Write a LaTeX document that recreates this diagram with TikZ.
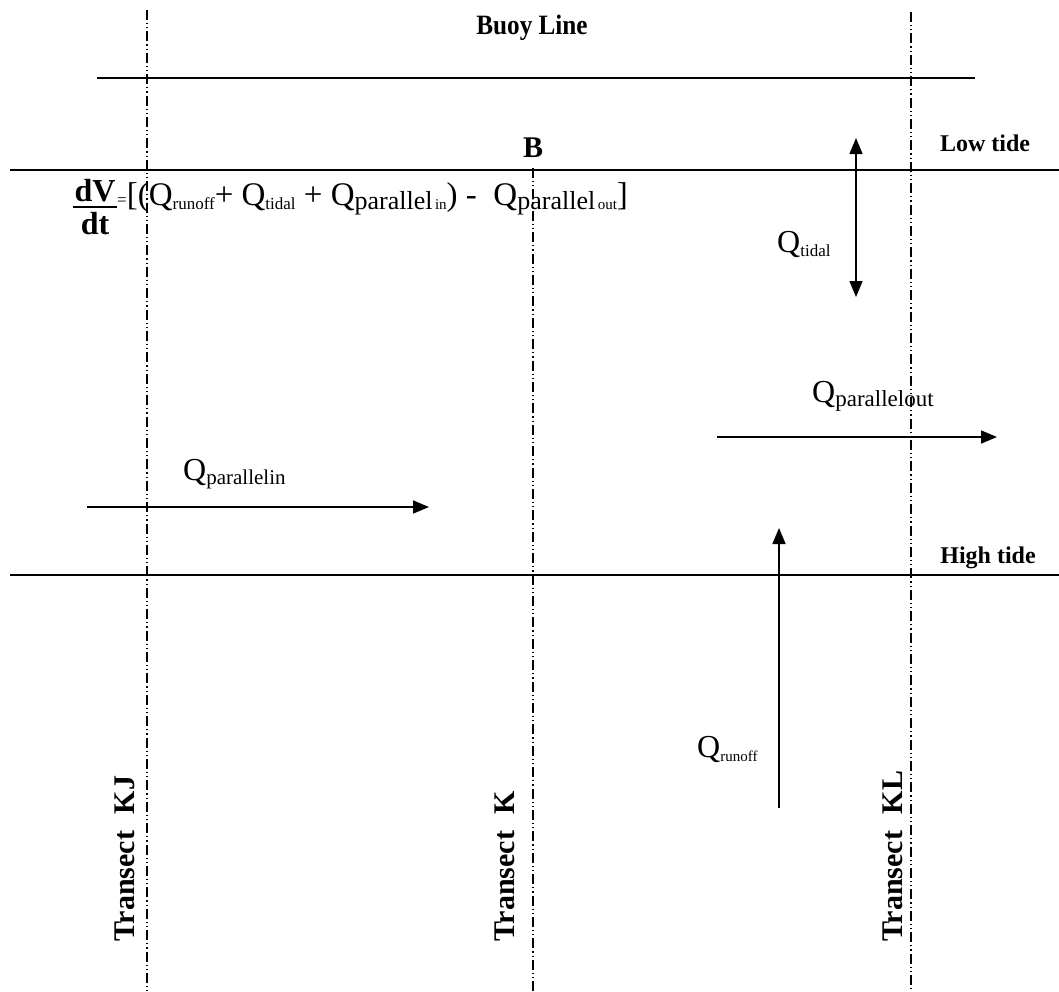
\documentclass[tikz,border=0pt]{standalone}
\usepackage{fontspec}
\setmainfont{Liberation Serif}
\usetikzlibrary{arrows.meta}
\newcommand\fs[2]{{\fontsize{#1}{#1}\selectfont #2}}
\newcommand\lowsub[2]{\raisebox{-4pt}{\fontsize{#1}{#1}\selectfont #2}}
\begin{document}
\begin{tikzpicture}[x=1pt,y=-1pt,
  hline/.style={line width=1.6pt},
  transect/.style={line width=1.1pt, dash pattern=on 10pt off 3pt on 1.2pt off 3pt on 1.2pt off 3pt},
  flow/.style={line width=1.6pt, -{Triangle[length=16pt,width=13pt]}},
  flowboth/.style={line width=1.6pt, {Triangle[length=16pt,width=13pt]}-{Triangle[length=16pt,width=13pt]}},
  tidelab/.style={inner sep=0pt, font=\bfseries\fontsize{24}{24}\selectfont},
  translab/.style={rotate=90, anchor=west, inner sep=0pt, font=\bfseries\fontsize{30}{30}\selectfont},
  qlab/.style={inner sep=0pt, font=\fontsize{32}{32}\selectfont}]
\useasboundingbox (0,0) rectangle (1059,991);

% coordinates of line ends
\coordinate (kjT) at (147,10);  \coordinate (kjB) at (147,991);
\coordinate (kT)  at (533,168); \coordinate (kB)  at (533,991);
\coordinate (klT) at (911,12);  \coordinate (klB) at (911,991);
\coordinate (buoyL) at (97,78);  \coordinate (buoyR) at (975,78);
\coordinate (lowL)  at (10,170); \coordinate (lowR)  at (1059,170);
\coordinate (highL) at (10,575); \coordinate (highR) at (1059,575);
\coordinate (tidA) at (856,138); \coordinate (tidB) at (856,297);
\coordinate (outA) at (717,437); \coordinate (outB) at (997,437);
\coordinate (inA)  at (87,507);  \coordinate (inB)  at (429,507);
\coordinate (runA) at (779,808); \coordinate (runB) at (779,528);

% horizontal lines
\draw[hline] (buoyL) -- (buoyR);
\draw[hline] (lowL) -- (lowR);
\draw[hline] (highL) -- (highR);

% transects
\draw[transect] (kjT) -- (kjB);
\draw[transect] (kT) -- (kB);
\draw[transect] (klT) -- (klB);

% flows
\draw[flowboth] (tidA) -- (tidB);
\draw[flow] (outA) -- (outB);
\draw[flow] (inA) -- (inB);
\draw[flow] (runA) -- (runB);

% labels
\node[inner sep=0pt, font=\bfseries\fontsize{28}{28}\selectfont, xscale=0.9] (buoy) at (532,28) {Buoy Line};
\node[inner sep=0pt, font=\bfseries\fontsize{30}{30}\selectfont] (B) at (533,148) {B};
\node[tidelab] (low) at (985,143) {Low tide};
\node[tidelab] (high) at (988,558) {High tide};

\node[qlab, anchor=base west] (qtid) at (777,252) {Q\lowsub{17}{tidal}};
\node[qlab, anchor=base west] (qout) at (812,402) {Q\lowsub{23}{parallelout}};
\node[qlab, anchor=base west] (qin) at (183,480) {Q\lowsub{21}{parallelin}};
\node[qlab, anchor=base west] (qrun) at (697,757) {Q\lowsub{15}{runoff}};

\node[translab] (tKJ) at (125,942) {Transect\hspace{9pt} KJ};
\node[translab] (tK)  at (505,942) {Transect\hspace{9pt} K};
\node[translab] (tKL) at (893,942) {Transect\hspace{9pt} KL};

% equation
\node[inner sep=0pt, anchor=base, font=\bfseries\fontsize{32}{32}\selectfont] (dv) at (95,201) {dV};
\node[inner sep=0pt, anchor=base, font=\bfseries\fontsize{32}{32}\selectfont] (dt) at (95,234) {dt};
\draw[line width=2pt] (73,207) -- (117,207);
\node[inner sep=0pt, anchor=base west, font=\fontsize{33}{33}\selectfont] (eq) at (117,205)
  {\fs{17}{=}[(Q\lowsub{17}{runoff}+ Q\lowsub{17}{tidal} + Q\lowsub{26}{parallel}\lowsub{15}{\,in}) -\ \ Q\lowsub{26}{parallel}\lowsub{15}{\,out}]};
\end{tikzpicture}
\end{document}
